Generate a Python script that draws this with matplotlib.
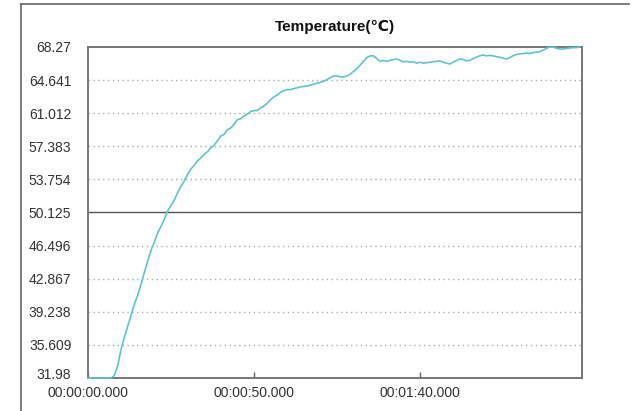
import matplotlib
matplotlib.use("Agg")
import matplotlib.pyplot as plt
from matplotlib.lines import Line2D
from matplotlib.transforms import ScaledTranslation

plt.rcParams['font.family'] = ['Liberation Sans', 'DejaVu Sans']

# --- data (1 s sampling)
time_s = list(range(0, 149))
temp_c = [
    31.98, 31.98, 31.98, 31.98, 31.98, 31.98, 31.98, 31.98, 32.3, 33.4,
    35.2, 36.5, 37.7, 38.9, 40.1, 41.1, 42.3, 43.6, 44.8, 46.0,
    46.9, 47.9, 48.6, 49.4, 50.3, 50.9, 51.5, 52.3, 53.0, 53.6,
    54.3, 54.9, 55.3, 55.8, 56.1, 56.5, 56.8, 57.2, 57.5, 58.0,
    58.5, 58.7, 59.2, 59.4, 59.8, 60.3, 60.4, 60.7, 60.9, 61.2,
    61.3, 61.3, 61.6, 61.8, 62.1, 62.5, 62.8, 63.0, 63.3, 63.5,
    63.6, 63.6, 63.7, 63.8, 63.9, 63.95, 64.0, 64.1, 64.2, 64.3,
    64.4, 64.5, 64.7, 64.9, 65.1, 65.1, 65.0, 65.0, 65.1, 65.3,
    65.6, 65.9, 66.3, 66.7, 67.1, 67.3, 67.3, 67.0, 66.7, 66.8,
    66.7, 66.8, 66.9, 66.95, 66.8, 66.65, 66.7, 66.6, 66.65, 66.5,
    66.6, 66.5, 66.55, 66.6, 66.65, 66.7, 66.75, 66.6, 66.5, 66.4,
    66.6, 66.8, 66.95, 66.9, 66.75, 66.8, 67.0, 67.15, 67.3, 67.4,
    67.3, 67.35, 67.3, 67.2, 67.15, 67.05, 66.95, 67.1, 67.3, 67.45,
    67.5, 67.55, 67.6, 67.55, 67.65, 67.7, 67.75, 67.9, 68.1, 68.25,
    68.27, 68.15, 68.05, 68.05, 68.1, 68.15, 68.2, 68.2, 68.25,
]

y_ticks = [31.98, 35.609, 39.238, 42.867, 46.496, 50.125,
           53.754, 57.383, 61.012, 64.641, 68.27]
y_labels = ['31.98', '35.609', '39.238', '42.867', '46.496', '50.125',
            '53.754', '57.383', '61.012', '64.641', '68.27']
x_ticks = [0, 50, 100]
x_labels = ['00:00:00.000', '00:00:50.000', '00:01:40.000']
mid_value = 50.125

fig = plt.figure(figsize=(6.36, 4.11), dpi=100)
ax = fig.add_axes([88 / 636, 33 / 411, 494 / 636, 331 / 411])

# dotted grid, solid middle line
for v in y_ticks[1:-1]:
    if v == mid_value:
        ax.axhline(v, color='#555555', lw=1.0, zorder=1)
    else:
        ax.axhline(v, color='#aaaaaa', lw=1.0, ls=(0, (1, 2.5)), zorder=1)

ax.plot(time_s, temp_c, color='#5fc4d2', lw=1.2, zorder=5, clip_on=False)

ax.set_xlim(0, 148.8)
ax.set_ylim(31.98, 68.27)
ax.set_yticks(y_ticks)
ax.set_yticklabels(y_labels)
ax.set_xticks(x_ticks)
ax.set_xticklabels(x_labels)

ax.tick_params(axis='y', length=0, pad=12, labelsize=10, labelcolor='#333333')
ax.tick_params(axis='x', direction='in', length=4, width=1, color='#666666',
               pad=6, labelsize=10, labelcolor='#333333')
for s in ax.spines.values():
    s.set_color('#777777')
    s.set_linewidth(1.4)

# lift the bottom y label a little so it clears the first time label
lbl0 = ax.get_yticklabels()[0]
lbl0.set_transform(lbl0.get_transform() + ScaledTranslation(0, 3 / 72, fig.dpi_scale_trans))

fig.text(335 / 636, 1 - 27 / 411, 'Temperature(℃)', ha='center', va='center',
         fontsize=11, fontweight='bold', color='#111111',
         family=['Liberation Sans', 'DejaVu Sans'])

# outer frame (left + top)
fig.add_artist(Line2D([21 / 636, 21 / 636], [0, 1 - 4 / 411],
                      transform=fig.transFigure, color='#666666', lw=1.2))
fig.add_artist(Line2D([21 / 636, 629 / 636], [1 - 4 / 411, 1 - 4 / 411],
                      transform=fig.transFigure, color='#666666', lw=1.2))

fig.savefig('out.png', dpi=100)
